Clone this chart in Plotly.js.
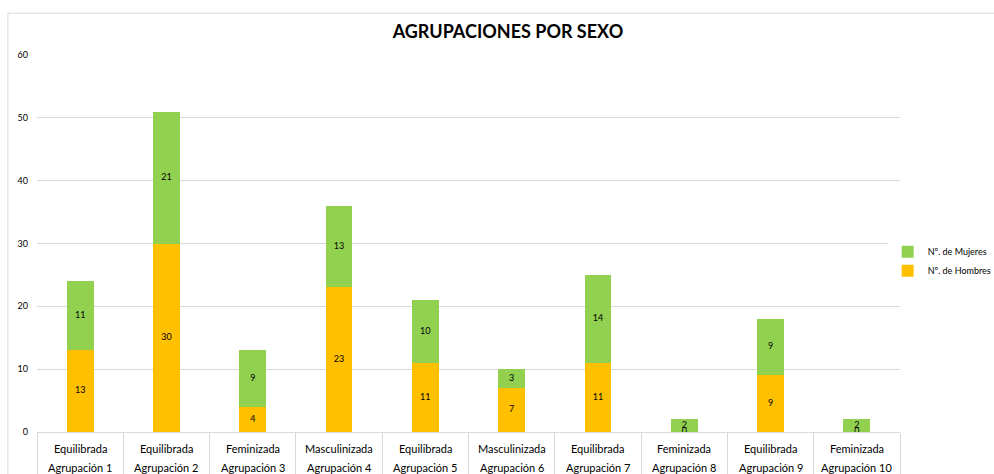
<!DOCTYPE html>
<html>
<head>
<meta charset="utf-8">
<script src="https://cdn.plot.ly/plotly-3.0.1.min.js"></script>
<style>html,body{margin:0;padding:0;background:#fff;}#chart{width:994px;height:474px;}</style>
</head>
<body>
<div id="chart"></div>
<script>
const agrupaciones = ["Agrupación 1","Agrupación 2","Agrupación 3","Agrupación 4","Agrupación 5","Agrupación 6","Agrupación 7","Agrupación 8","Agrupación 9","Agrupación 10"];
const tipos = ["Equilibrada","Equilibrada","Feminizada","Masculinizada","Equilibrada","Masculinizada","Equilibrada","Feminizada","Equilibrada","Feminizada"];
const hombres = [13,30,4,23,11,7,11,0,9,0];
const mujeres = [11,21,9,13,10,3,14,2,9,2];
const yTicks = [0,10,20,30,40,50,60];

const fontFam = "Lato, 'Open Sans', sans-serif";
const traces = [
  {type: "bar", name: "Nº. de Hombres", x: agrupaciones, y: hombres, marker: {color: "#FFC000"}, hoverinfo: "y+name"},
  {type: "bar", name: "Nº. de Mujeres", x: agrupaciones, y: mujeres, marker: {color: "#92D050"}, hoverinfo: "y+name"},
  {type: "scatter", mode: "text", showlegend: false, hoverinfo: "skip",
   x: agrupaciones, y: hombres.map(v => v / 2), text: hombres.map(String),
   textposition: "middle center", textfont: {family: fontFam, size: 9, color: "#000"}},
  {type: "scatter", mode: "text", showlegend: false, hoverinfo: "skip",
   x: agrupaciones, y: mujeres.map((v, i) => hombres[i] + v / 2), text: mujeres.map(String),
   textposition: "middle center", textfont: {family: fontFam, size: 9, color: "#000"}}
];
const labelFont = {family: fontFam, size: 11, color: "#000"};
const annotations = agrupaciones.map((a, i) => ({
  x: a, xref: "x", y: 0, yref: "paper", yanchor: "middle", yshift: -16,
  text: tipos[i], showarrow: false, font: labelFont
})).concat(agrupaciones.map(a => ({
  x: a, xref: "x", y: 0, yref: "paper", yanchor: "middle", yshift: -35,
  text: a, showarrow: false, font: labelFont
})));
const layout = {
  width: 994, height: 474,
  margin: {l: 37, r: 94, t: 55, b: 42, autoexpand: false},
  paper_bgcolor: "#fff", plot_bgcolor: "#fff",
  barmode: "stack",
  bargap: 0.69,
  showlegend: true,
  title: {text: "<b>AGRUPACIONES POR SEXO</b>", x: 0.511, xanchor: "center", y: 0.933, yanchor: "middle",
          font: {family: fontFam, size: 18, color: "#000"}},
  xaxis: {
    type: "category",
    tickson: "boundaries", ticks: "outside", ticklen: 42, tickcolor: "#d9d9d9", tickwidth: 1,
    showticklabels: false,
    showline: true, linecolor: "#d9d9d9", linewidth: 1,
    showgrid: false, automargin: false
  },
  yaxis: {
    range: [0, 60], tickvals: yTicks, ticktext: yTicks.map(String),
    showgrid: true, gridcolor: "#d9d9d9", gridwidth: 1,
    zeroline: false, showline: false, ticks: "",
    ticklabelstandoff: 8, automargin: false,
    tickfont: {family: fontFam, size: 9, color: "#000"}
  },
  legend: {
    xref: "container", yref: "container",
    x: 0.893, xanchor: "left", y: 0.449, yanchor: "middle",
    traceorder: "reversed",
    font: {family: fontFam, size: 9, color: "#000"},
    tracegroupgap: 0
  },
  annotations: annotations,
  shapes: [{type: "rect", xref: "paper", yref: "paper", x0: -0.0337, x1: 1.2, y0: -0.3, y1: 1.111,
            line: {color: "#d9d9d9", width: 1}, fillcolor: "rgba(0,0,0,0)", layer: "below"}]
};
Plotly.newPlot("chart", traces, layout, {displayModeBar: false, staticPlot: true});
</script>
</body>
</html>
